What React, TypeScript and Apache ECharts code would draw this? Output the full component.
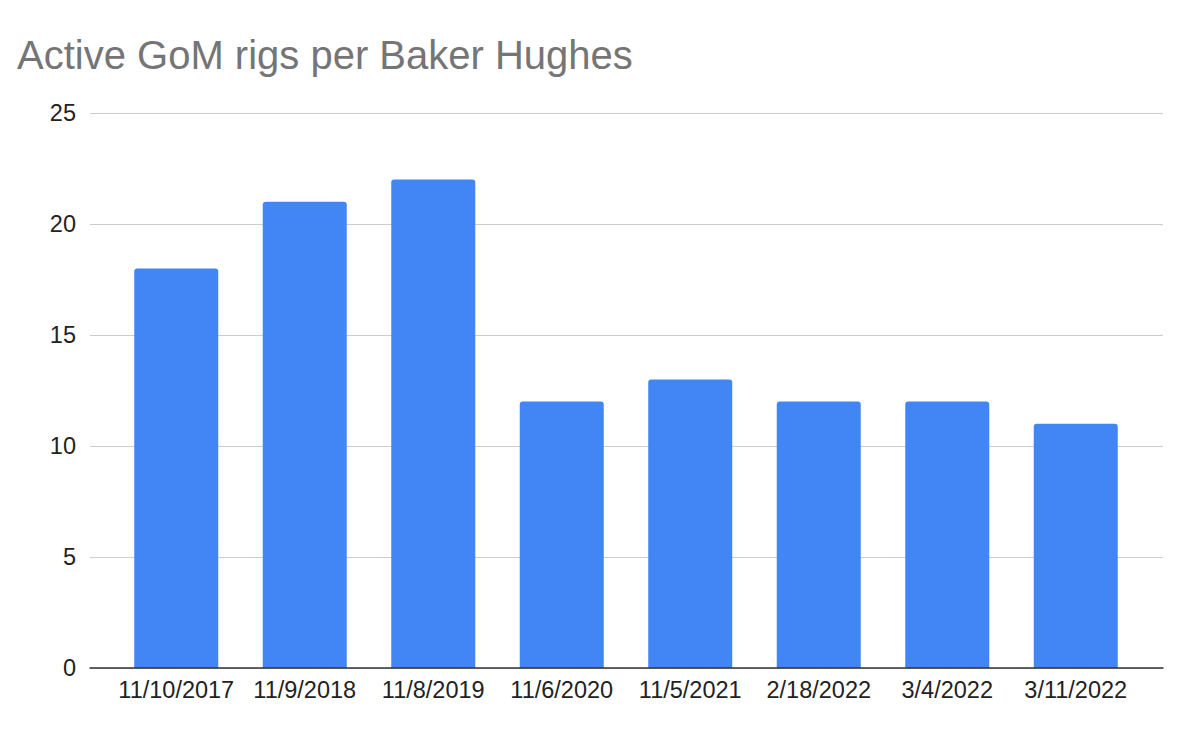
import React, { useEffect, useRef } from "react";
import * as echarts from "echarts";

const categories = ["11/10/2017", "11/9/2018", "11/8/2019", "11/6/2020", "11/5/2021", "2/18/2022", "3/4/2022", "3/11/2022"];
const rigs = [18, 21, 22, 12, 13, 12, 12, 11];
const yMin = 0;
const yMax = 25;
const yStep = 5;

export default function App() {
  const ref = useRef<HTMLDivElement>(null);
  useEffect(() => {
    document.body.style.margin = "0";
    const chart = echarts.init(ref.current!, null, { renderer: "svg" });
    const font = "Liberation Sans";
    chart.setOption({
      animation: false,
      backgroundColor: "#ffffff",
      title: {
        text: "Active GoM rigs per Baker Hughes",
        left: 17,
        top: 35,
        padding: 0,
        textStyle: { fontFamily: font, fontSize: 40, fontWeight: "normal", color: "#757575" },
      },
      grid: [
        { left: 90, right: 37, top: 113, bottom: 74 },
        { left: 112, right: 60, top: 113, bottom: 74 },
      ],
      xAxis: [
        {
          type: "category",
          gridIndex: 0,
          data: categories,
          axisTick: { show: false },
          axisLabel: { show: false },
          axisLine: { lineStyle: { color: "#333333", width: 1.5 } },
          z: 5,
        },
        {
          type: "category",
          gridIndex: 1,
          data: categories,
          axisTick: { show: false },
          axisLine: { show: false },
          axisLabel: { fontFamily: font, fontSize: 23.5, color: "#222222", margin: 10, interval: 0 },
        },
      ],
      yAxis: [
        {
          type: "value",
          gridIndex: 0,
          min: yMin,
          max: yMax,
          interval: yStep,
          axisLine: { show: false },
          axisTick: { show: false },
          splitLine: { lineStyle: { color: "#cccccc", width: 1 } },
          axisLabel: { fontFamily: font, fontSize: 23.5, color: "#222222", margin: 14 },
        },
        {
          type: "value",
          gridIndex: 1,
          min: yMin,
          max: yMax,
          interval: yStep,
          show: false,
          splitLine: { show: false },
        },
      ],
      series: [
        {
          type: "bar",
          xAxisIndex: 1,
          yAxisIndex: 1,
          data: rigs,
          barWidth: 84,
          itemStyle: { color: "#4285F4", borderRadius: [3, 3, 0, 0] },
        },
      ],
    });
    return () => chart.dispose();
  }, []);
  return <div ref={ref} style={{ width: 1200, height: 742 }} />;
}
